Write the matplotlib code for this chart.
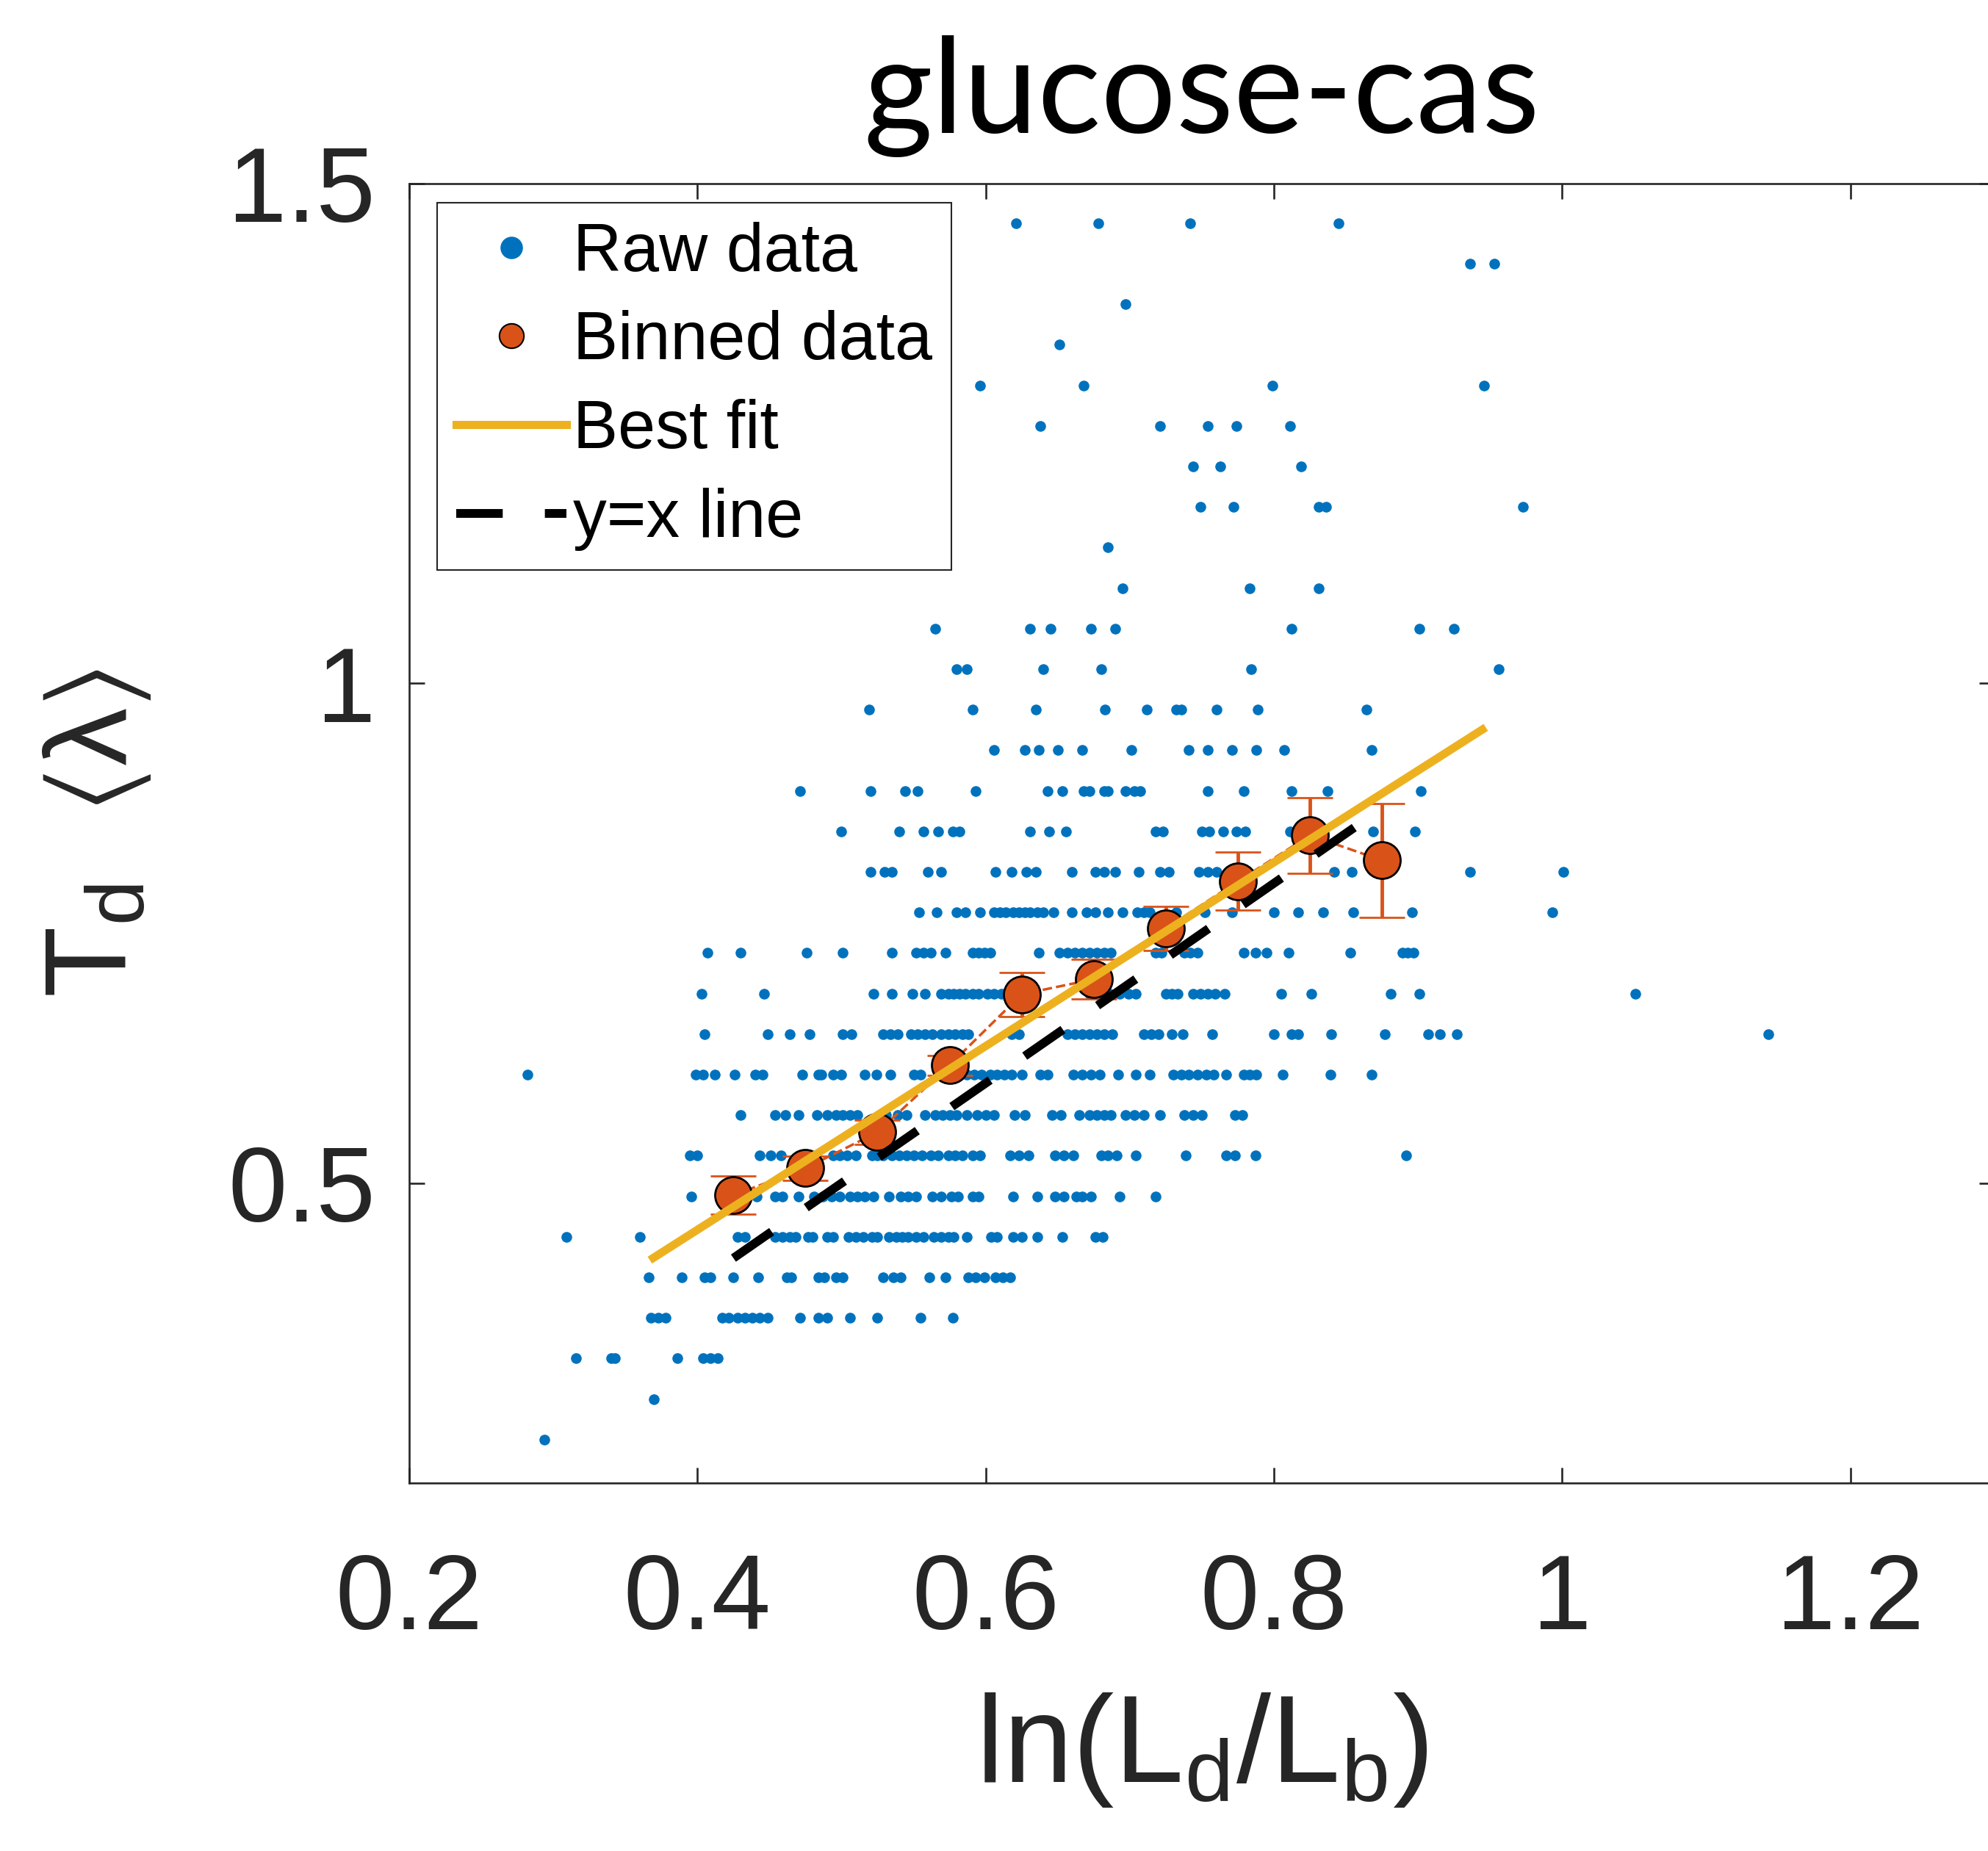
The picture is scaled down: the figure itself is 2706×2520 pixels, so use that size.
import matplotlib
matplotlib.use("Agg")
import matplotlib.pyplot as plt
from matplotlib.lines import Line2D

plt.rcParams['font.family'] = ['Liberation Sans', 'DejaVu Sans']
plt.rcParams['mathtext.fontset'] = 'custom'
plt.rcParams['mathtext.rm'] = 'Liberation Sans'
plt.rcParams['mathtext.it'] = 'Liberation Sans:italic'

# raw data: T_d<lambda> only takes discrete values, one list of x per level
row_levels = [0.2434, 0.2840, 0.3246, 0.3651, 0.4057, 0.4463, 0.4868, 0.5274,
              0.5680, 0.6086, 0.6491, 0.6897, 0.7303, 0.7708, 0.8114, 0.8520,
              0.8925, 0.9331, 0.9737, 1.0143, 1.0548, 1.0954, 1.1360, 1.1765,
              1.2171, 1.2577, 1.2982, 1.3388, 1.3794, 1.4200, 1.4605]

x06 = [0.294]
x07 = [0.370]
x08 = [0.316, 0.340, 0.343, 0.386, 0.404, 0.409, 0.414]
x09 = [0.368, 0.373, 0.378, 0.417, 0.422, 0.428, 0.433, 0.438, 0.443, 0.449,
       0.471, 0.484, 0.490, 0.506, 0.525, 0.555, 0.577]
x10 = [0.366, 0.389, 0.405, 0.409, 0.425, 0.442, 0.462, 0.465, 0.484, 0.488,
       0.496, 0.501, 0.529, 0.536, 0.541, 0.561, 0.572, 0.588, 0.593, 0.599,
       0.607, 0.612, 0.617]
x11 = [0.309, 0.360, 0.428, 0.433, 0.454, 0.459, 0.464, 0.468, 0.477, 0.480,
       0.490, 0.494, 0.505, 0.510, 0.515, 0.521, 0.525, 0.533, 0.538, 0.542,
       0.546, 0.552, 0.557, 0.564, 0.569, 0.574, 0.578, 0.587, 0.604, 0.608,
       0.619, 0.625, 0.636, 0.653, 0.676, 0.681]
x12 = [0.396, 0.441, 0.454, 0.459, 0.470, 0.481, 0.487, 0.493, 0.499, 0.506,
       0.511, 0.516, 0.522, 0.533, 0.541, 0.546, 0.552, 0.563, 0.569, 0.576,
       0.581, 0.591, 0.595, 0.619, 0.636, 0.648, 0.654, 0.663, 0.667, 0.673,
       0.693, 0.718]
x13 = [0.395, 0.400, 0.443, 0.451, 0.458, 0.494, 0.499, 0.504, 0.510, 0.521,
       0.525, 0.529, 0.535, 0.540, 0.545, 0.550, 0.556, 0.562, 0.567, 0.574,
       0.579, 0.584, 0.591, 0.596, 0.617, 0.623, 0.630, 0.648, 0.654, 0.661,
       0.680, 0.685, 0.691, 0.704, 0.739, 0.767, 0.773, 0.787, 0.892]
x14 = [0.430, 0.454, 0.461, 0.470, 0.483, 0.490, 0.496, 0.501, 0.506, 0.511,
       0.531, 0.539, 0.545, 0.558, 0.565, 0.570, 0.575, 0.580, 0.587, 0.594,
       0.600, 0.606, 0.620, 0.627, 0.646, 0.652, 0.665, 0.672, 0.677, 0.682,
       0.687, 0.697, 0.703, 0.710, 0.721, 0.738, 0.744, 0.750, 0.773, 0.778]
x15 = [0.282, 0.399, 0.404, 0.412, 0.426, 0.440, 0.445, 0.473, 0.484, 0.486,
       0.494, 0.500, 0.516, 0.524, 0.534, 0.550, 0.555, 0.587, 0.592, 0.597,
       0.603, 0.608, 0.613, 0.618, 0.625, 0.638, 0.643, 0.661, 0.667, 0.673,
       0.679, 0.692, 0.704, 0.714, 0.730, 0.736, 0.741, 0.747, 0.753, 0.758,
       0.767, 0.779, 0.783, 0.788, 0.806, 0.839, 0.868]
x16 = [0.405, 0.449, 0.464, 0.478, 0.501, 0.507, 0.529, 0.534, 0.539, 0.548,
       0.553, 0.558, 0.563, 0.569, 0.574, 0.579, 0.584, 0.588, 0.618, 0.623,
       0.657, 0.662, 0.667, 0.672, 0.677, 0.682, 0.688, 0.710, 0.715, 0.720,
       0.729, 0.737, 0.757, 0.800, 0.812, 0.817, 0.840, 0.877, 0.907, 0.915,
       0.927, 1.143]
x17 = [0.403, 0.446, 0.522, 0.535, 0.549, 0.558, 0.569, 0.574, 0.578, 0.582,
       0.586, 0.591, 0.595, 0.601, 0.606, 0.611, 0.672, 0.679, 0.686, 0.693,
       0.699, 0.704, 0.725, 0.729, 0.733, 0.744, 0.749, 0.754, 0.759, 0.766,
       0.805, 0.826, 0.881, 0.901, 1.051]
x18 = [0.407, 0.430, 0.476, 0.501, 0.535, 0.552, 0.557, 0.562, 0.572, 0.591,
       0.595, 0.599, 0.603, 0.637, 0.651, 0.657, 0.662, 0.667, 0.672, 0.677,
       0.682, 0.687, 0.718, 0.722, 0.738, 0.742, 0.747, 0.779, 0.787, 0.795,
       0.810, 0.853, 0.889, 0.893, 0.897]
x19 = [0.554, 0.566, 0.580, 0.586, 0.596, 0.606, 0.610, 0.614, 0.619, 0.623,
       0.627, 0.631, 0.636, 0.640, 0.647, 0.660, 0.670, 0.676, 0.685, 0.695,
       0.705, 0.710, 0.714, 0.732, 0.752, 0.771, 0.800, 0.817, 0.834, 0.855,
       0.896, 0.993]
x20 = [0.520, 0.530, 0.535, 0.560, 0.569, 0.607, 0.618, 0.628, 0.635, 0.660,
       0.676, 0.682, 0.690, 0.706, 0.721, 0.727, 0.748, 0.754, 0.760, 0.842,
       0.854, 0.936, 1.001]
x21 = [0.500, 0.540, 0.557, 0.567, 0.577, 0.582, 0.631, 0.644, 0.656, 0.718,
       0.723, 0.750, 0.755, 0.765, 0.774, 0.780, 0.811, 0.869, 0.898]
x22 = [0.471, 0.520, 0.544, 0.553, 0.593, 0.643, 0.653, 0.668, 0.672, 0.682,
       0.685, 0.697, 0.703, 0.707, 0.754, 0.779, 0.812, 0.837, 0.902]
x23 = [0.606, 0.627, 0.637, 0.650, 0.667, 0.701, 0.741, 0.754, 0.771, 0.788,
       0.807, 0.868]
x24 = [0.519, 0.591, 0.635, 0.683, 0.712, 0.732, 0.736, 0.760, 0.789, 0.864]
x25 = [0.580, 0.587, 0.640, 0.680, 0.784, 0.956]
x26 = [0.565, 0.631, 0.645, 0.673, 0.690, 0.812, 0.901, 0.925]
x27 = [0.695, 0.783, 0.831]
x28 = [0.685]
x29 = [0.749, 0.772, 0.831, 0.836, 0.973]
x30 = [0.744, 0.763, 0.819]
x31 = [0.638, 0.721, 0.754, 0.774, 0.811]
x32 = [0.596, 0.668, 0.799, 0.946]
x33 = [0.651]
x34 = [0.697]
x35 = [0.936, 0.953]
x36 = [0.621, 0.678, 0.742, 0.845]

# binned means with error bars
bin_x = [0.425, 0.475, 0.525, 0.575, 0.625, 0.675, 0.725, 0.775, 0.825, 0.875]
bin_y = [0.488, 0.515, 0.551, 0.618, 0.689, 0.704, 0.755, 0.802, 0.848, 0.823]
bin_err = [0.019, 0.012, 0.012, 0.010, 0.022, 0.020, 0.022, 0.029, 0.038, 0.057]

# best fit and y=x segments
fit_x = [0.367, 0.947]
fit_y = [0.423, 0.956]
ident_x = [0.425, 0.875]

rows = [x06, x07, x08, x09, x10, x11, x12, x13, x14, x15, x16, x17, x18, x19,
        x20, x21, x22, x23, x24, x25, x26, x27, x28, x29, x30, x31, x32, x33,
        x34, x35, x36]
raw_x = []
raw_y = []
for lev, xs in zip(row_levels, rows):
    raw_x += xs
    raw_y += [lev] * len(xs)

BLUE = '#0072BD'
ORANGE = '#D95319'
YELLOW = '#EDB120'
AX_COL = '#262626'
id_dash = (0, (5.3, 4.8))

fig = plt.figure(figsize=(27.06, 25.2), dpi=100)
ax = fig.add_axes([0.2058, 0.1988, 0.7975, 0.702])

ax.plot(raw_x, raw_y, 'o', ms=10.5, mew=0, color=BLUE, zorder=2)
ax.errorbar(bin_x, bin_y, yerr=bin_err, fmt='--o', color=ORANGE, lw=2.5,
            ms=36, mfc=ORANGE, mec='black', mew=2,
            elinewidth=3.5, capsize=22, capthick=3.5, zorder=3)
ax.plot(fit_x, fit_y, '-', color=YELLOW, lw=8, solid_capstyle='butt', zorder=5)
ax.plot(ident_x, ident_x, color='black', lw=8.6, ls=id_dash, zorder=6)

ax.set_xlim(0.2, 1.3)
ax.set_ylim(0.2, 1.5)
ax.set_xticks([0.2, 0.4, 0.6, 0.8, 1.0, 1.2])
ax.set_xticklabels(['0.2', '0.4', '0.6', '0.8', '1', '1.2'])
ax.set_yticks([0.5, 1.0, 1.5])
ax.set_yticklabels(['0.5', '1', '1.5'])
ax.tick_params(direction='in', length=15, width=1.9, colors=AX_COL,
               labelsize=104, top=True, right=True)
ax.tick_params(axis='x', pad=68)
ax.tick_params(axis='y', pad=33)
for s in ax.spines.values():
    s.set_color(AX_COL)
    s.set_linewidth(1.9)

ax.set_title('glucose-cas', fontsize=130, family=['Lato', 'DejaVu Sans'],
             color='black', pad=50)
ax.set_xlabel(r'$\mathregular{ln(L_d/L_b)}$', fontsize=122, color=AX_COL)
ax.xaxis.set_label_coords(0.5, -0.160)
ax.set_ylabel(r'$\mathregular{T_d\ \ \langle\lambda\rangle}$', fontsize=114,
              color=AX_COL, va='center')
ax.yaxis.set_label_coords(-0.197, 0.5)

handles = [
    Line2D([], [], ls='none', marker='o', ms=22, mew=0, color=BLUE),
    Line2D([], [], ls='none', marker='o', ms=24, mfc=ORANGE, mec='black', mew=1.5),
    Line2D([], [], color=YELLOW, lw=8),
    Line2D([], [], color='black', lw=8.6, ls=id_dash),
]
labels = ['Raw data', 'Binned data', 'Best fit', 'y=x line']
leg = fig.legend(handles, labels, loc='upper left',
                 bbox_to_anchor=(0.2199, 0.8905), bbox_transform=fig.transFigure,
                 fontsize=66, handlelength=1.64, handletextpad=0.1,
                 borderpad=0.28, labelspacing=0.38, borderaxespad=0,
                 numpoints=1, fancybox=False, framealpha=1)
leg.get_frame().set_edgecolor(AX_COL)
leg.get_frame().set_linewidth(1.5)

fig.savefig('out.png', dpi=100, facecolor='white')
